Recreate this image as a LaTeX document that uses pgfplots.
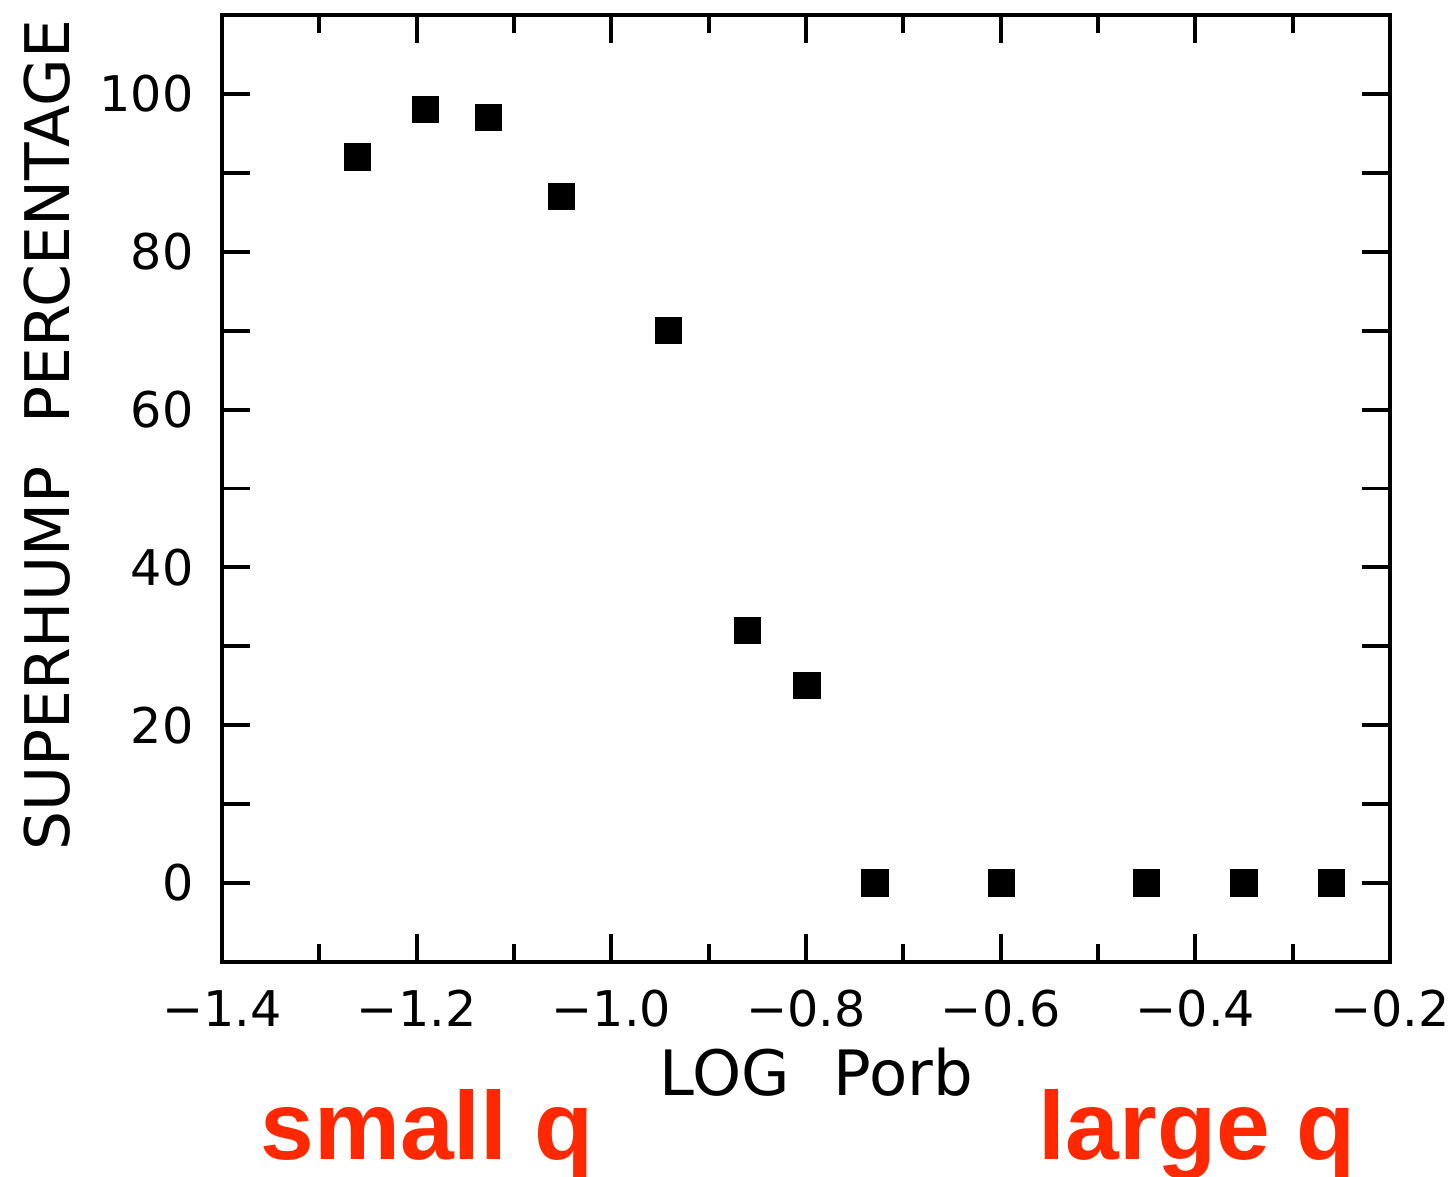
\documentclass[border=0pt]{standalone}
\usepackage{pgfplots}
\pgfplotsset{compat=1.18}
\usepackage{fontspec}
\setmainfont{DejaVu Sans}
\newfontfamily\redfont{Liberation Sans}
\definecolor{qred}{RGB}{255,40,0}
\begin{document}
\begin{tikzpicture}
\useasboundingbox (-22.2mm,-21.5mm) rectangle (122.9mm,96.2mm);
\begin{axis}[
  at={(0,0)}, anchor=south west, scale only axis,
  width=116.8mm, height=94.7mm,
  xmin=-1.4, xmax=-0.2, ymin=-10, ymax=110,
  xtick={-1.4,-1.2,-1.0,-0.8,-0.6,-0.4,-0.2},
  xticklabels={−1.4,−1.2,−1.0,−0.8,−0.6,−0.4,−0.2},
  minor xtick={-1.3,-1.1,-0.9,-0.7,-0.5,-0.3},
  ytick={0,10,20,30,40,50,60,70,80,90,100},
  yticklabels={0,,20,,40,,60,,80,,100},
  tick align=inside, major tick length=2.8mm, minor tick length=1.8mm,
  every tick/.style={line width=1.1pt, black},
  axis line style={line width=1.3pt},
  tick label style={font=\fontsize{14}{14}\selectfont},
  xticklabel style={yshift=-1.6mm},
  yticklabel style={xshift=-1.6mm},
  xlabel={LOG\hspace{0.7em}Porb},
  ylabel={SUPERHUMP\hspace{0.7em}PERCENTAGE},
  xlabel style={font=\fontsize{17.8}{18}\selectfont, at={(axis description cs:0.509,-0.116)}, anchor=center},
  ylabel style={font=\fontsize{17.5}{18}\selectfont, at={(axis description cs:-0.150,0.556)}, anchor=center},
  clip=false,
]
\addplot[only marks, mark=square*, mark size=1.3mm, black] coordinates {
  (-1.261,92) (-1.191,98) (-1.126,97) (-1.051,87) (-0.941,70)
  (-0.860,32) (-0.799,25) (-0.729,0) (-0.599,0) (-0.450,0)
  (-0.350,0) (-0.260,0)
};
\node[anchor=base, text=qred, font=\redfont\bfseries\fontsize{27.5}{27}\selectfont] at (axis description cs:0.1755,-0.209) {small q};
\node[anchor=base, text=qred, font=\redfont\bfseries\fontsize{27.5}{27}\selectfont] at (axis description cs:0.835,-0.209) {large q};
\end{axis}
\end{tikzpicture}
\end{document}
